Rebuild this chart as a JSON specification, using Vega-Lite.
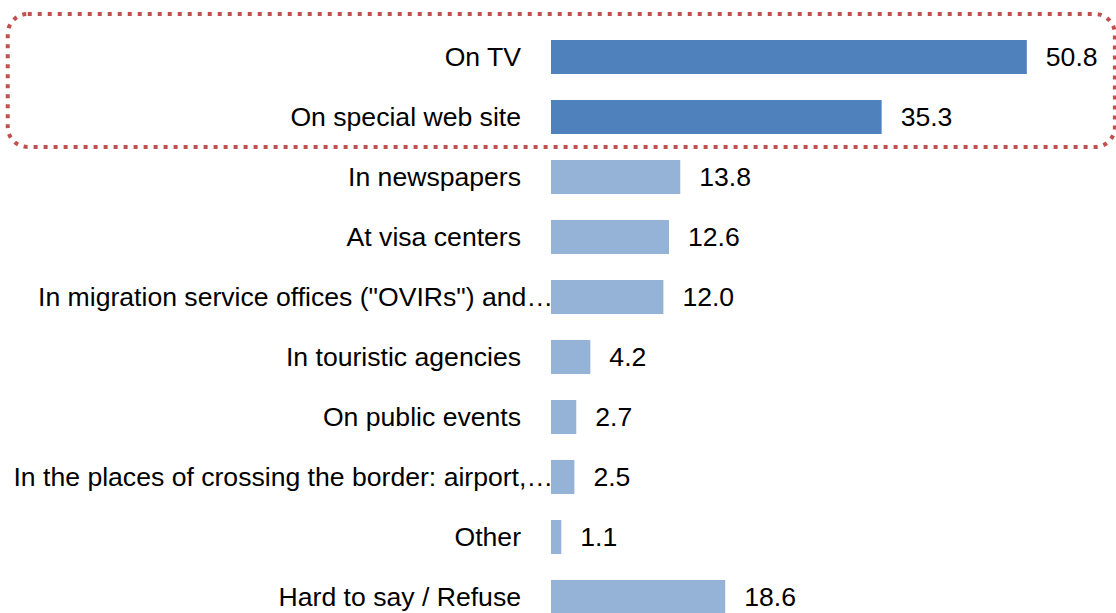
{
  "$schema": "https://vega.github.io/schema/vega-lite/v6.json",
  "width": 562,
  "height": 586,
  "autosize": {"type": "none"},
  "padding": {"left": 551, "top": 27, "right": 3, "bottom": 0},
  "config": {"view": {"stroke": null}, "font": "Liberation Sans"},
  "data": {
    "values": [
      {"label": "On TV", "value": 50.8, "group": "highlight"},
      {"label": "On special web site", "value": 35.3, "group": "highlight"},
      {"label": "In newspapers", "value": 13.8, "group": "other"},
      {"label": "At visa centers", "value": 12.6, "group": "other"},
      {"label": "In migration service offices (\"OVIRs\") and…", "value": 12.0, "group": "other"},
      {"label": "In touristic agencies", "value": 4.2, "group": "other"},
      {"label": "On public events", "value": 2.7, "group": "other"},
      {"label": "In the places of crossing the border: airport,…", "value": 2.5, "group": "other"},
      {"label": "Other", "value": 1.1, "group": "other"},
      {"label": "Hard to say / Refuse", "value": 18.6, "group": "other"}
    ]
  },
  "encoding": {
    "y": {
      "field": "label",
      "type": "nominal",
      "sort": null,
      "axis": null,
      "scale": {"range": [0, 600], "paddingInner": 0.4333, "paddingOuter": 0.2167}
    }
  },
  "layer": [
    {
      "mark": {"type": "bar"},
      "encoding": {
        "x": {"field": "value", "type": "quantitative", "scale": {"domain": [0, 60]}, "axis": null},
        "color": {
          "field": "group",
          "type": "nominal",
          "scale": {"domain": ["highlight", "other"], "range": ["#4f81bd", "#95b3d7"]},
          "legend": null
        }
      }
    },
    {
      "mark": {"type": "text", "align": "left", "baseline": "middle", "dx": 19, "dy": 1, "fontSize": 26.6, "color": "#000000", "font": "Liberation Sans"},
      "encoding": {
        "x": {"field": "value", "type": "quantitative"},
        "text": {"field": "value", "type": "quantitative", "format": ".1f"}
      }
    },
    {
      "transform": [{"filter": "indexof(datum.label, '…') < 0"}],
      "mark": {"type": "text", "align": "right", "baseline": "middle", "dx": -30, "dy": 1, "fontSize": 26.6, "color": "#000000", "font": "Liberation Sans"},
      "encoding": {
        "x": {"datum": 0},
        "text": {"field": "label", "type": "nominal"}
      }
    },
    {
      "transform": [{"filter": "indexof(datum.label, '…') >= 0"}],
      "mark": {"type": "text", "align": "right", "baseline": "middle", "dx": 2, "dy": 1, "fontSize": 26.6, "color": "#000000", "font": "Liberation Sans"},
      "encoding": {
        "x": {"datum": 0},
        "text": {"field": "label", "type": "nominal"}
      }
    },
    {
      "data": {"values": [{"note": "highlight"}]},
      "mark": {
        "type": "rect",
        "filled": false,
        "stroke": "#c0504d",
        "strokeWidth": 4,
        "strokeDash": [4, 6],
        "cornerRadius": 20,
        "yOffset": -43,
        "y2Offset": -30
      },
      "encoding": {
        "x": {"datum": -58},
        "x2": {"datum": 60.2},
        "y": {"datum": "On TV"},
        "y2": {"datum": "In newspapers"}
      }
    }
  ]
}
